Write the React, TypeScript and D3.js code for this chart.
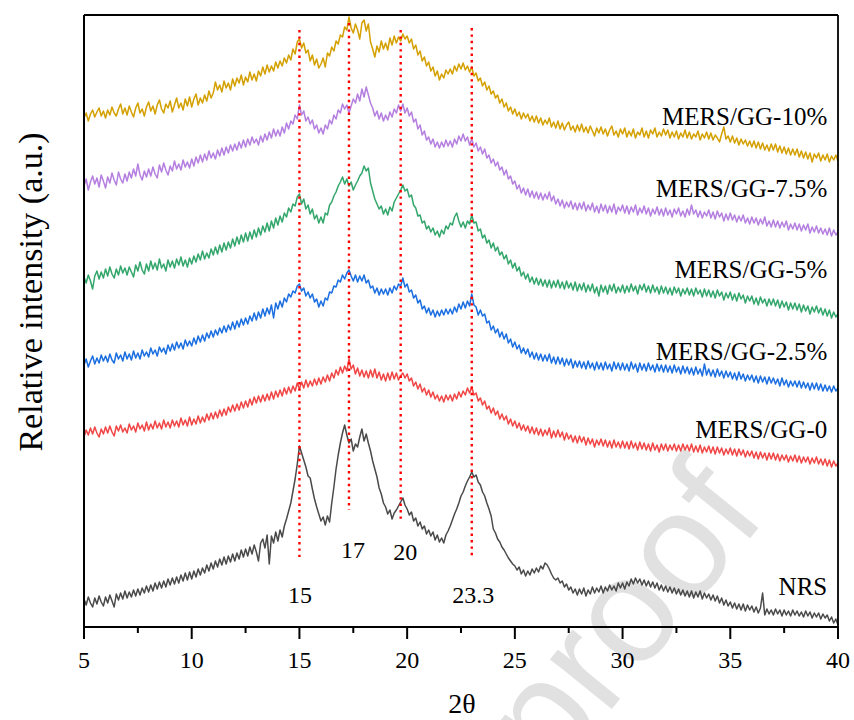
import React from 'react';
import * as d3 from 'd3';

// 2θ sampling grid (degrees), 5.0 .. 40.0 every 0.1
const twoTheta: number[] = d3.range(351).map((i) => +(5 + i * 0.1).toFixed(1));

const xTicks = [5, 10, 15, 20, 25, 30, 35, 40];
const xMinorTicks = [7.5, 12.5, 17.5, 22.5, 27.5, 32.5, 37.5];

// Relative intensity (a.u.), stacked
const nrs = [
  28,22,30,24,20,29,23,31,25,21,
  30,24,32,26,20,33,27,34,28,36,
  29,35,30,37,31,38,32,39,34,41,
  35,42,36,44,38,45,39,46,40,48,
  42,49,43,50,44,52,46,54,47,55,
  48,56,50,58,52,59,54,62,56,64,
  58,66,60,68,62,70,63,71,65,73,
  66,74,68,77,70,78,71,80,73,82,
  75,66,84,88,79,92,63,91,84,95,
  86,97,90,101,108,116,124,136,148,163,
  181,174,167,160,151,149,138,128,120,113,
  106,110,102,111,105,124,140,158,172,184,
  194,202,192,184,188,176,183,180,190,198,
  186,193,184,176,166,158,150,139,133,124,
  120,113,117,108,114,117,121,125,129,122,
  118,112,115,106,109,101,105,98,101,93,
  97,91,95,87,92,85,89,84,92,96,
  101,107,113,118,124,131,135,141,146,150,
  155,150,152,145,142,135,131,124,118,111,
  98,94,88,85,80,77,73,69,66,63,
  61,57,60,53,57,51,56,52,58,54,
  59,55,61,58,64,62,58,53,49,47,
  49,44,46,40,43,37,40,34,38,32,
  38,33,39,31,37,33,40,34,39,35,
  41,34,40,36,42,37,41,36,44,39,
  44,38,45,41,48,43,49,44,48,42,
  47,41,46,40,45,39,44,37,42,36,
  41,35,40,34,39,33,38,32,37,31,
  36,30,36,29,35,30,36,28,34,29,
  33,27,32,26,31,24,29,22,27,21,
  25,19,24,18,23,17,23,16,22,17,
  21,15,20,14,19,34,12,18,13,17,
  12,18,13,17,11,17,12,16,11,17,
  12,16,11,15,10,16,11,15,9,14,
  10,14,8,13,9,12,6,10,4,8,
  2,
];

const mersGG0 = [
  190,197,192,199,193,200,194,190,198,193,
  200,194,201,195,191,201,196,202,195,199,
  194,203,197,201,195,204,198,202,196,205,
  197,203,198,206,199,204,198,207,200,205,
  199,207,201,206,200,209,202,207,201,210,
  202,208,203,211,204,210,205,213,207,214,
  208,215,209,217,211,218,212,220,215,222,
  216,223,217,225,219,226,220,228,222,230,
  224,231,225,232,226,233,227,235,228,236,
  230,237,231,239,233,240,234,241,236,244,
  238,245,239,247,240,246,241,248,242,249,
  243,250,245,252,246,254,249,257,252,260,
  254,261,256,268,258,262,253,259,251,257,
  250,256,249,257,250,258,249,255,247,253,
  246,254,247,255,248,254,247,251,254,249,
  253,246,249,241,245,238,243,235,239,232,
  237,230,235,228,232,226,231,225,232,227,
  232,226,233,228,235,230,236,232,239,234,
  240,232,234,226,229,222,226,218,221,214,
  219,212,216,208,213,207,211,203,208,201,
  206,199,204,197,202,196,201,194,200,193,
  199,192,198,191,197,192,199,189,196,190,
  197,190,195,187,194,188,192,185,191,184,
  191,185,190,182,189,183,188,180,187,182,
  188,181,187,180,186,179,187,180,185,179,
  186,179,185,178,186,179,184,177,185,178,
  184,177,183,176,184,177,182,175,183,177,
  183,176,182,177,183,176,182,176,183,177,
  182,176,183,175,181,175,182,174,180,175,
  181,174,180,173,180,174,179,172,178,173,
  179,172,178,171,178,172,177,170,176,171,
  176,169,175,168,175,169,174,167,174,168,
  174,167,173,166,172,167,172,165,171,166,
  172,165,171,164,170,165,170,163,169,164,
  170,163,168,162,168,161,167,160,166,161,
  164,
];

const mersGG25 = [
  262,268,260,266,271,263,269,264,272,266,
  271,265,273,267,264,274,268,272,266,275,
  268,273,267,276,269,274,268,277,271,275,
  270,279,273,277,271,280,275,279,273,282,
  276,283,277,285,279,284,278,287,281,286,
  281,289,283,291,285,292,286,294,289,296,
  290,297,292,299,294,301,295,302,297,305,
  298,306,300,308,302,309,303,311,306,314,
  307,315,309,318,311,319,313,322,309,324,
  318,326,320,329,325,333,330,336,334,341,
  343,336,339,331,335,329,333,325,328,320,
  326,321,329,327,335,334,341,340,347,345,
  352,348,354,357,351,346,352,345,351,346,
  352,344,347,339,341,334,339,332,338,333,
  338,332,339,334,341,337,343,341,349,340,
  343,335,337,329,332,324,327,318,321,314,
  319,312,317,310,316,311,317,312,318,313,
  318,313,320,315,323,318,325,319,326,321,
  333,322,320,312,317,311,313,304,306,297,
  301,294,298,290,295,288,293,284,288,280,
  285,278,282,274,279,273,278,270,275,268,
  274,267,273,266,272,266,273,264,270,263,
  270,263,269,261,268,262,268,259,266,260,
  266,259,265,258,266,259,264,257,265,258,
  264,257,265,258,263,256,265,258,264,257,
  264,257,263,256,265,258,263,255,264,257,
  263,256,264,257,262,255,263,256,262,255,
  262,255,261,254,262,255,260,253,261,254,
  260,253,259,252,260,253,258,251,263,252,
  258,251,257,250,258,251,256,249,256,250,
  255,248,254,247,255,248,253,246,252,247,
  252,245,251,244,251,245,250,243,250,244,
  249,243,248,241,249,242,247,240,246,241,
  246,240,246,239,245,239,244,237,244,238,
  244,237,243,236,242,236,241,235,241,236,
  239,
];

const mersGG5 = [
  350,344,352,346,338,351,356,348,355,349,
  358,351,360,353,349,358,352,361,354,359,
  352,360,355,350,362,356,365,357,353,363,
  356,366,358,364,357,368,359,363,356,367,
  360,366,359,368,362,370,361,367,360,369,
  363,371,365,373,367,376,368,374,369,378,
  372,380,373,382,375,384,377,385,379,388,
  381,390,383,392,385,394,386,395,388,397,
  390,399,392,401,395,404,396,406,399,409,
  402,411,405,414,410,419,415,423,421,430,
  433,423,428,418,422,413,418,408,412,404,
  410,404,414,412,422,425,431,435,441,445,
  450,443,448,441,445,437,442,446,451,454,
  461,456,459,444,436,428,423,418,421,413,
  418,412,420,416,425,429,433,437,442,436,
  438,430,432,422,419,411,412,404,406,398,
  401,395,399,392,396,390,397,393,401,398,
  404,402,410,414,406,400,405,399,406,403,
  412,404,405,396,398,389,392,384,387,379,
  384,376,380,372,375,368,372,363,367,359,
  364,356,360,351,355,348,353,345,350,343,
  349,342,348,341,347,340,347,339,346,340,
  347,339,345,338,346,339,344,337,345,336,
  343,337,344,335,342,336,343,334,340,331,
  342,335,341,333,342,336,343,334,340,335,
  342,334,341,335,343,336,341,333,342,337,
  343,335,341,334,342,335,340,333,341,334,
  340,333,339,332,340,334,339,331,338,333,
  339,332,338,331,339,333,337,330,338,331,
  337,330,336,329,337,331,335,327,334,329,
  335,327,333,326,334,328,332,324,331,326,
  331,323,329,322,330,324,328,321,328,322,
  328,321,327,319,326,320,325,317,324,318,
  324,317,323,315,322,316,321,313,320,315,
  321,314,319,312,318,311,317,309,315,310,
  313,
];

const mersGG75 = [
  441,448,437,445,451,443,449,440,452,446,
  439,450,444,454,447,442,455,448,444,453,
  446,455,449,458,451,463,452,447,456,450,
  458,451,460,453,449,462,455,464,457,452,
  461,456,466,458,463,457,467,460,465,459,
  468,461,470,464,472,465,473,467,476,469,
  474,468,477,471,479,472,480,474,482,476,
  483,477,485,479,487,480,488,482,490,484,
  488,482,491,485,493,487,495,489,498,491,
  497,491,500,494,504,498,506,503,512,508,
  522,512,516,506,510,503,507,498,502,494,
  499,493,502,498,507,503,512,508,517,514,
  523,518,522,514,521,528,524,533,526,538,
  530,540,532,524,519,511,516,508,514,506,
  512,507,515,510,518,514,522,516,523,514,
  519,511,515,505,508,498,502,492,496,487,
  490,483,488,480,485,479,485,480,487,481,
  486,480,488,483,491,486,493,486,490,482,
  488,480,484,476,480,473,478,469,472,464,
  468,461,465,457,460,452,457,448,451,443,
  446,438,442,434,439,432,438,430,436,429,
  435,428,434,427,433,428,435,426,431,423,
  428,421,427,419,425,420,426,418,424,417,
  424,418,425,416,422,417,424,415,421,414,
  423,416,422,414,421,415,423,413,420,416,
  422,414,421,413,420,415,422,412,419,414,
  421,413,419,411,418,413,420,412,418,411,
  419,412,417,410,418,413,419,411,416,410,
  418,412,422,413,417,410,416,409,415,411,
  417,409,415,408,416,410,414,406,413,407,
  414,407,412,405,411,406,412,404,409,403,
  410,404,409,402,408,403,410,401,406,400,
  407,400,406,399,405,400,406,397,403,398,
  404,397,403,396,402,397,403,394,400,395,
  401,394,399,393,398,392,399,391,397,392,
  395,
];

const mersGG10 = [
  509,514,506,513,517,510,515,519,511,516,
  509,517,512,520,514,511,518,523,513,519,
  512,521,515,510,519,524,514,518,511,520,
  525,516,521,513,522,527,518,514,523,519,
  526,515,522,529,519,524,517,528,521,530,
  520,528,533,522,529,524,532,526,536,529,
  534,545,537,542,535,546,539,544,537,548,
  541,549,544,552,542,550,545,555,547,553,
  546,556,551,560,553,562,555,561,556,565,
  559,566,561,569,564,572,567,578,573,585,
  588,579,584,574,577,566,572,562,568,559,
  563,569,560,574,571,580,576,586,583,592,
  590,600,597,610,599,594,603,597,588,604,
  607,596,603,585,578,570,581,575,586,578,
  584,577,589,582,591,584,590,586,593,588,
  591,584,588,578,582,572,576,566,570,561,
  565,556,560,551,556,547,553,549,557,553,
  558,553,561,556,563,558,564,557,561,555,
  560,551,554,546,549,541,545,537,541,533,
  536,529,532,524,528,520,524,516,520,513,
  518,511,515,508,514,509,513,506,511,505,
  511,504,509,502,507,503,509,500,505,499,
  506,498,504,497,502,505,497,501,495,502,
  496,503,495,500,494,501,496,491,499,494,
  500,493,498,491,497,501,492,496,490,498,
  493,499,490,496,491,498,489,495,492,499,
  490,496,489,497,493,499,490,495,491,498,
  492,497,489,495,490,496,488,494,490,497,
  489,495,488,493,490,496,487,493,489,495,
  488,494,487,492,489,485,493,500,488,491,
  485,491,484,489,482,488,483,487,481,486,
  480,486,479,485,478,484,477,482,476,483,
  477,483,475,481,474,480,473,479,472,478,
  472,478,470,476,469,475,468,474,465,473,
  469,474,466,472,467,473,465,471,467,472,
  466,
];

const seriesNames = ['NRS', 'MERS/GG-0', 'MERS/GG-2.5%', 'MERS/GG-5%', 'MERS/GG-7.5%', 'MERS/GG-10%'];
const seriesValues = [nrs, mersGG0, mersGG25, mersGG5, mersGG75, mersGG10];
const seriesColors = ['#4a4a4a', '#f04646', '#1c6fe0', '#33a66c', '#b57fe0', '#d4a000'];
const labelX = 39.5;
const labelLevels = [32, 189, 267, 349, 430, 502];

// dotted guide lines at characteristic peaks
const peakLineX = [15, 17.3, 19.7, 23];
const peakLineTop = [597, 604, 597, 599];
const peakLineBottom = [70, 117, 107, 70];
const peakLabels = ['15', '17', '20', '23.3'];
const peakLabelX = [15.03, 17.49, 19.91, 23.07];
const peakLabelY = [24, 69, 67, 24];

const SERIF = '"Liberation Serif", "Times New Roman", Times, serif';

export default function App() {
  const width = 854;
  const height = 720;
  const x = d3.scaleLinear().domain([5, 40]).range([84, 838]);
  const y = d3.scaleLinear().domain([0, 612]).range([627, 15]);
  const line = d3
    .line<number>()
    .x((_, i) => x(twoTheta[i]))
    .y((d) => y(d));

  const x0 = x.range()[0];
  const x1 = x.range()[1];
  const yTop = y.range()[1];
  const yBot = y.range()[0];

  return (
    <div style={{ position: 'absolute', left: 0, top: 0 }}>
      <svg width={width} height={height} style={{ display: 'block' }}>
        <rect x={0} y={0} width={width} height={height} fill="#ffffff" />
        <text
          x={768}
          y={516}
          transform="rotate(-51, 768, 516)"
          textAnchor="end"
          fontFamily='"Liberation Sans", Arial, sans-serif'
          fontSize={150}
          fill="#e1e1e1"
        >
          Journal Pre-proof
        </text>

        {seriesValues.map((vals, k) => (
          <path
            key={seriesNames[k]}
            d={line(vals) || ''}
            fill="none"
            stroke={seriesColors[k]}
            strokeWidth={1.5}
            strokeLinejoin="round"
          />
        ))}

        {peakLineX.map((p, i) => (
          <line
            key={'pl' + i}
            x1={x(p)}
            x2={x(p)}
            y1={y(peakLineTop[i])}
            y2={y(peakLineBottom[i])}
            stroke="#ff0000"
            strokeWidth={2.4}
            strokeDasharray="2.4 4"
          />
        ))}

        {/* frame */}
        <line x1={x0} x2={x1} y1={yTop} y2={yTop} stroke="#000" strokeWidth={1.8} />
        <line x1={x1} x2={x1} y1={yTop} y2={yBot} stroke="#000" strokeWidth={1.8} />
        <line x1={x0} x2={x0} y1={yTop} y2={yBot} stroke="#000" strokeWidth={2} />
        <line x1={x0 - 1} x2={x1 + 1} y1={yBot} y2={yBot} stroke="#000" strokeWidth={2.2} />

        {xTicks.map((t) => (
          <g key={'t' + t}>
            <line x1={x(t)} x2={x(t)} y1={yBot} y2={yBot + 12} stroke="#000" strokeWidth={2} />
            <text x={x(t)} y={668} textAnchor="middle" fontFamily={SERIF} fontSize={24} fill="#000">
              {t}
            </text>
          </g>
        ))}
        {xMinorTicks.map((t) => (
          <line key={'m' + t} x1={x(t)} x2={x(t)} y1={yBot} y2={yBot + 6} stroke="#000" strokeWidth={2} />
        ))}

        {seriesNames.map((n, k) => (
          <text
            key={'lab' + n}
            x={x(labelX)}
            y={y(labelLevels[k])}
            textAnchor="end"
            fontFamily={SERIF}
            fontSize={25}
            fill="#000"
          >
            {n}
          </text>
        ))}

        {peakLabels.map((s, i) => (
          <text
            key={'pk' + i}
            x={x(peakLabelX[i])}
            y={y(peakLabelY[i])}
            textAnchor="middle"
            fontFamily={SERIF}
            fontSize={24}
            fill="#000"
          >
            {s}
          </text>
        ))}

        <text x={462} y={713} textAnchor="middle" fontFamily={SERIF} fontSize={28} fill="#000">
          2θ
        </text>
        <text
          x={0}
          y={0}
          transform={`translate(42, 292) rotate(-90)`}
          textAnchor="middle"
          fontFamily={SERIF}
          fontSize={34}
          fill="#000"
        >
          Relative intensity (a.u.)
        </text>
      </svg>
    </div>
  );
}
